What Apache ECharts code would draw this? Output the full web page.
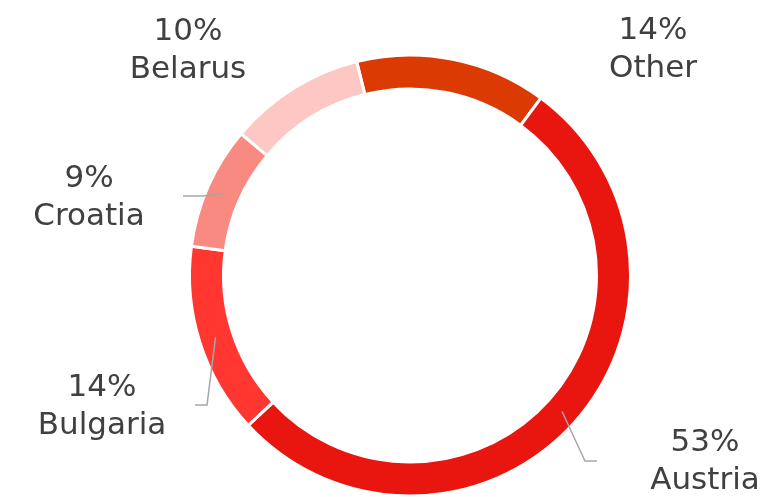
<!DOCTYPE html>
<html>
<head>
<meta charset="utf-8">
<title>Share by country</title>
<script src="https://cdn.jsdelivr.net/npm/echarts@6/dist/echarts.min.js"></script>
<style>
  html, body { margin: 0; padding: 0; background: #fff; }
  #main { width: 768px; height: 497px; }
</style>
</head>
<body>
<div id="main"></div>
<script>
// clockwise from the top, the same order the ring is drawn in
const countries = ['Other', 'Austria', 'Bulgaria', 'Croatia', 'Belarus']
const shares = [14, 53, 14, 9, 10]
const colors = ['#DC3A03', '#E8160E', '#FF3730', '#F98A81', '#FDC8C4']

const center = [410, 275.5]
const midRing = 204
// where each label sits, plus the bend and end of its leader line (if it has one)
const labelSpots = {
  Other: { x: 653, y: 50 },
  Austria: { x: 705, y: 462, line: [[585, 461], [597, 461]] },
  Bulgaria: { x: 102, y: 407, line: [[207, 405], [195, 405]] },
  Croatia: { x: 89, y: 198, line: [[203, 196], [183, 196]] },
  Belarus: { x: 188, y: 51 }
}

let chartDom = document.getElementById('main')
let myChart = echarts.init(chartDom, null, { renderer: 'canvas' })
let option

option = {
  animation: false,
  color: colors,
  series: [
    {
      // the ring itself
      type: 'pie',
      z: 2,
      center: center,
      radius: [186.5, 220.5],
      startAngle: 104,
      clockwise: true,
      silent: true,
      itemStyle: {
        borderColor: '#fff',
        borderWidth: 3
      },
      label: { show: false },
      labelLine: { show: false },
      data: countries.map((name, i) => ({ name: name, value: shares[i] }))
    },
    {
      // invisible copy on top, only there to carry labels + leaders over the ring
      type: 'pie',
      z: 5,
      center: center,
      radius: [0, midRing],
      startAngle: 104,
      clockwise: true,
      silent: true,
      avoidLabelOverlap: false,
      itemStyle: {
        color: 'rgba(0,0,0,0)',
        borderWidth: 0
      },
      label: {
        show: true,
        position: 'outside',
        formatter: '{c}%\n{b}',
        fontFamily: 'DejaVu Sans',
        fontSize: 31,
        lineHeight: 38,
        color: '#404040'
      },
      labelLine: {
        show: true,
        length: 10,
        length2: 10,
        lineStyle: {
          color: '#A6A6A6',
          width: 1.5
        }
      },
      labelLayout: function (params) {
        const spot = labelSpots[countries[params.dataIndex]]
        const res = { x: spot.x, y: spot.y, align: 'center', verticalAlign: 'middle' }
        if (spot.line && params.labelLinePoints) {
          // leader starts mid-ring, at the slice's mid angle
          const p = params.labelLinePoints[0]
          const dx = p[0] - center[0]
          const dy = p[1] - center[1]
          const len = Math.sqrt(dx * dx + dy * dy)
          const start = [center[0] + dx / len * midRing, center[1] + dy / len * midRing]
          res.labelLinePoints = [start, spot.line[0], spot.line[1]]
        }
        return res
      },
      data: countries.map((name, i) => ({
        name: name,
        value: shares[i],
        labelLine: { show: !!labelSpots[name].line }
      }))
    }
  ]
}

option && myChart.setOption(option)
</script>
</body>
</html>
